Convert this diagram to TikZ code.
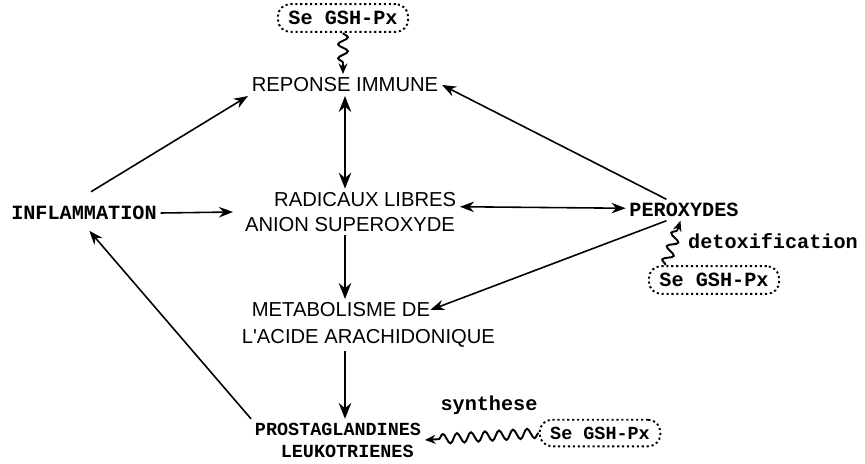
\documentclass[tikz,border=0pt]{standalone}
\usepackage{fontspec}
\newfontfamily\typefont{Liberation Mono}
\newfontfamily\handfont{Liberation Sans}
\usetikzlibrary{arrows.meta,positioning,decorations.pathmorphing}
\tikzstyle{typed}=[
	font=\typefont\bfseries\fontsize{11.5}{13}\selectfont,
	inner sep=2pt
]
\tikzstyle{smalltyped}=[
	font=\typefont\bfseries\fontsize{10.5}{12.5}\selectfont,
	align=center,
	inner sep=2pt
]
\tikzstyle{written}=[
	font=\handfont\fontsize{11.5}{14}\selectfont,
	align=center,
	inner sep=2pt
]
\tikzstyle{enzyme}=[
	draw,
	rounded corners=7pt,
	line width=1.1pt,
	dash pattern=on 1.2pt off 1.6pt,
	inner xsep=6pt,
	inner ysep=4pt
]
\tikzstyle{effect}=[
	->,
	>={Stealth[length=8pt,width=6pt]},
	line width=0.9pt
]
\tikzstyle{pathway}=[
	->,
	>={Stealth[length=9pt,width=7pt]},
	line width=1.7pt
]
\tikzstyle{action}=[
	->,
	>={Stealth[length=6pt,width=5pt]},
	line width=1.1pt,
	decorate,
	decoration={snake,amplitude=2.8pt,segment length=8pt,post length=5pt}
]

\begin{document}
\begin{tikzpicture}[x=0.02cm,y=-0.02cm]
\useasboundingbox (0,0) rectangle (865,463);
% nodes
\node [written] (reponse) at (345,85) {REPONSE IMMUNE};
\node [typed, enzyme] (seTop) at (343,18) {Se GSH-Px};
\node [typed] (inflammation) at (84,213) {INFLAMMATION};
\node [written] (radicaux) at (350,212) {\hspace*{1.5em}RADICAUX LIBRES\\ANION SUPEROXYDE};
\node [typed] (peroxydes) at (684,210) {PEROXYDES};
\node [typed] (detox) at (773,241) {detoxification};
\node [typed, enzyme] (seRight) at (714,280) {Se GSH-Px};
\node [written, anchor=west] (meta1) at (248,310) {METABOLISME DE};
\node [written, anchor=west] (meta2) at (238,338) {L'ACIDE ARACHIDONIQUE};
\node [smalltyped] (prosta) at (338,440) {PROSTAGLANDINES\\\hspace*{1em}LEUKOTRIENES};
\node [typed] (synthese) at (489,405) {synthese};
\node [smalltyped, enzyme] (seBottom) at (600,433) {Se GSH-Px};
% connectors
\draw [effect] ([xshift=4pt,yshift=6pt]inflammation.north) -- (reponse.south west);
\draw [effect] (inflammation.east) -- ([xshift=-4pt]radicaux.west);
\draw [pathway, <->] (reponse.south) -- (reponse.south |- radicaux.north);
\draw [effect] ([xshift=-10pt]peroxydes.north) -- (reponse.east);
\draw [effect, <->] ([yshift=3pt]radicaux.east) -- ([yshift=1pt]peroxydes.west);
\draw [pathway] (reponse.south |- radicaux.south) -- (reponse.south |- meta1.north);
\draw [effect] ([xshift=-10pt]peroxydes.south) -- ([xshift=-2pt]meta1.east);
\draw [pathway] (reponse.south |- meta2.south) -- (reponse.south |- prosta.north);
\draw [effect] (prosta.north west) -- ([xshift=3pt,yshift=-4pt]inflammation.south);
% enzyme actions
\draw [action] (seTop.south) -- (seTop.south |- reponse.north);
\draw [action] ([xshift=10pt]seRight.north west) -- ([xshift=-2pt]peroxydes.south);
\draw [action] (seBottom.west) -- (prosta.east);
\end{tikzpicture}
\end{document}
